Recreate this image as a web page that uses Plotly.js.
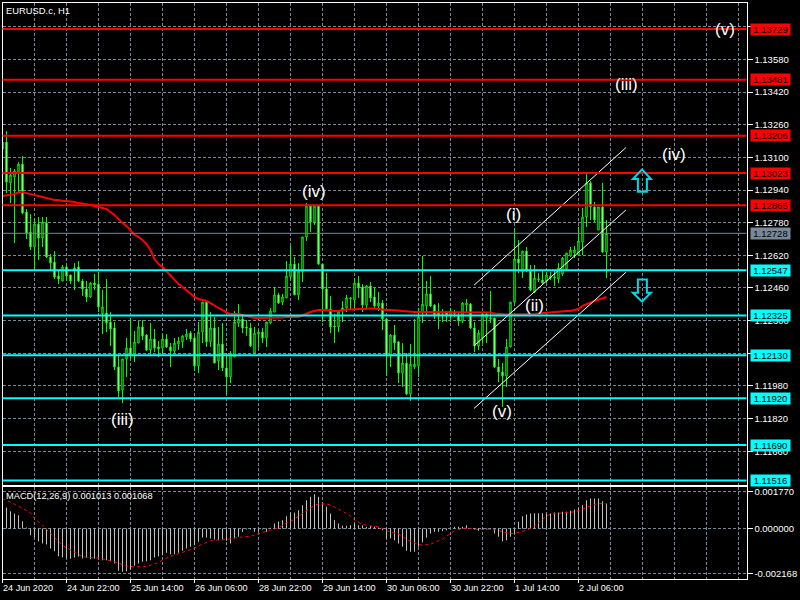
<!DOCTYPE html>
<html>
<head>
<meta charset="utf-8">
<script src="https://cdn.plot.ly/plotly-3.0.1.min.js"></script>
<style>html,body{margin:0;padding:0;background:#000;}#c{width:800px;height:600px;}</style>
</head>
<body>
<div id="c"></div>
<script>
// EURUSD.c H1 bars, oldest first (the first bar sits on the left frame)
var opens=[1.13141,1.13175,1.12975,1.13004,1.13023,1.13067,1.12832,1.12734,1.12661,1.12773,1.12705,1.12778,1.12612,1.12587,1.12519,1.12494,1.12563,1.12524,1.12558,1.12563,1.12494,1.12455,1.12416,1.12484,1.12479,1.12333,1.12338,1.12293,1.12264,1.12073,1.11960,1.12112,1.12166,1.12137,1.12190,1.12269,1.12229,1.12156,1.12210,1.12171,1.12166,1.12210,1.12171,1.12151,1.12185,1.12196,1.12220,1.12239,1.12215,1.12078,1.12244,1.12391,1.12196,1.12264,1.12102,1.12185,1.12068,1.12024,1.12122,1.12288,1.12308,1.12269,1.12264,1.12141,1.12234,1.12244,1.12215,1.12288,1.12342,1.12426,1.12391,1.12411,1.12514,1.12577,1.12426,1.12538,1.12710,1.12862,1.12783,1.12862,1.12577,1.12455,1.12357,1.12274,1.12269,1.12362,1.12362,1.12406,1.12401,1.12484,1.12465,1.12376,1.12470,1.12416,1.12372,1.12386,1.12308,1.12127,1.12229,1.12196,1.12043,1.12092,1.11940,1.12073,1.12078,1.12338,1.12372,1.12431,1.12376,1.12338,1.12323,1.12338,1.12328,1.12333,1.12328,1.12298,1.12376,1.12381,1.12264,1.12176,1.12215,1.12313,1.12308,1.12313,1.12073,1.12048,1.12029,1.12171,1.12391,1.12602,1.12538,1.12641,1.12543,1.12440,1.12499,1.12499,1.12494,1.12509,1.12509,1.12504,1.12529,1.12553,1.12617,1.12631,1.12622,1.12685,1.12808,1.12975,1.12857,1.12744,1.12857,1.12636];
var highs=[1.13175,1.13229,1.13048,1.13043,1.13077,1.13107,1.12847,1.12822,1.12803,1.12808,1.12808,1.12808,1.12626,1.12641,1.12548,1.12573,1.12573,1.12524,1.12582,1.12592,1.12504,1.12494,1.12489,1.12529,1.12538,1.12450,1.12504,1.12342,1.12293,1.12127,1.12112,1.12215,1.12313,1.12249,1.12298,1.12303,1.12234,1.12288,1.12259,1.12200,1.12234,1.12234,1.12190,1.12215,1.12220,1.12229,1.12259,1.12249,1.12229,1.12293,1.12391,1.12391,1.12342,1.12318,1.12269,1.12288,1.12141,1.12151,1.12347,1.12381,1.12323,1.12303,1.12288,1.12269,1.12254,1.12264,1.12293,1.12362,1.12465,1.12436,1.12431,1.12592,1.12666,1.12612,1.12582,1.12710,1.12876,1.12866,1.12862,1.12862,1.12577,1.12533,1.12421,1.12333,1.12347,1.12396,1.12426,1.12416,1.12504,1.12519,1.12479,1.12475,1.12489,1.12460,1.12440,1.12401,1.12313,1.12234,1.12279,1.12200,1.12190,1.12141,1.12185,1.12308,1.12362,1.12617,1.12494,1.12519,1.12381,1.12386,1.12357,1.12347,1.12362,1.12352,1.12338,1.12391,1.12406,1.12386,1.12293,1.12254,1.12338,1.12338,1.12445,1.12313,1.12112,1.12092,1.12210,1.12391,1.12749,1.12695,1.12641,1.12661,1.12573,1.12573,1.12533,1.12548,1.12538,1.12538,1.12548,1.12582,1.12612,1.12631,1.12661,1.12666,1.12759,1.12852,1.13018,1.12984,1.12881,1.12857,1.12975,1.12793];
var lows=[1.13141,1.12925,1.12876,1.12680,1.12930,1.12822,1.12700,1.12646,1.12553,1.12597,1.12661,1.12607,1.12548,1.12504,1.12479,1.12494,1.12494,1.12479,1.12450,1.12489,1.12421,1.12391,1.12411,1.12450,1.12342,1.12234,1.12244,1.12176,1.12058,1.11926,1.11896,1.12024,1.12112,1.12097,1.12190,1.12205,1.12151,1.12132,1.12146,1.12122,1.12137,1.12166,1.12073,1.12137,1.12156,1.12166,1.12205,1.12196,1.12053,1.12043,1.12190,1.12171,1.12171,1.12092,1.12058,1.12053,1.11940,1.11994,1.12122,1.12269,1.12239,1.12225,1.12171,1.12141,1.12166,1.12190,1.12171,1.12283,1.12342,1.12381,1.12376,1.12411,1.12499,1.12426,1.12401,1.12489,1.12690,1.12734,1.12769,1.12573,1.12293,1.12352,1.12239,1.12190,1.12244,1.12293,1.12342,1.12357,1.12357,1.12411,1.12342,1.12357,1.12391,1.12362,1.12347,1.12254,1.12029,1.12073,1.12156,1.11994,1.11975,1.11935,1.11906,1.12063,1.12024,1.12288,1.12328,1.12367,1.12308,1.12259,1.12293,1.12293,1.12293,1.12318,1.12274,1.12288,1.12338,1.12259,1.12146,1.12156,1.12190,1.12190,1.12288,1.12068,1.11999,1.11877,1.11975,1.12171,1.12386,1.12533,1.12509,1.12538,1.12445,1.12435,1.12489,1.12475,1.12484,1.12499,1.12470,1.12484,1.12519,1.12548,1.12612,1.12607,1.12617,1.12622,1.12759,1.12793,1.12783,1.12744,1.12631,1.12509];
var closes=[1.13175,1.12979,1.13014,1.13033,1.13067,1.12827,1.12729,1.12661,1.12773,1.12705,1.12783,1.12612,1.12582,1.12514,1.12504,1.12563,1.12519,1.12494,1.12548,1.12494,1.12455,1.12416,1.12484,1.12475,1.12367,1.12367,1.12288,1.12259,1.12073,1.11955,1.12112,1.12166,1.12132,1.12196,1.12269,1.12225,1.12156,1.12210,1.12166,1.12161,1.12210,1.12171,1.12151,1.12190,1.12200,1.12225,1.12234,1.12210,1.12078,1.12244,1.12391,1.12196,1.12264,1.12092,1.12185,1.12068,1.12024,1.12141,1.12293,1.12308,1.12264,1.12264,1.12176,1.12239,1.12244,1.12215,1.12293,1.12347,1.12426,1.12386,1.12416,1.12519,1.12577,1.12426,1.12543,1.12710,1.12862,1.12783,1.12862,1.12577,1.12455,1.12357,1.12269,1.12269,1.12347,1.12347,1.12411,1.12411,1.12484,1.12460,1.12376,1.12470,1.12411,1.12372,1.12386,1.12308,1.12127,1.12229,1.12190,1.12043,1.12092,1.11940,1.12087,1.12087,1.12318,1.12381,1.12431,1.12372,1.12328,1.12328,1.12333,1.12323,1.12347,1.12338,1.12298,1.12386,1.12386,1.12264,1.12176,1.12239,1.12333,1.12333,1.12313,1.12073,1.12048,1.12029,1.12171,1.12391,1.12602,1.12582,1.12641,1.12543,1.12450,1.12509,1.12504,1.12484,1.12524,1.12519,1.12514,1.12558,1.12607,1.12631,1.12646,1.12646,1.12690,1.12808,1.12975,1.12857,1.12793,1.12857,1.12636,1.12728];
var movingAverage=[1.12911,1.12913,1.12916,1.12920,1.12928,1.12930,1.12925,1.12920,1.12916,1.12911,1.12906,1.12901,1.12896,1.12891,1.12891,1.12886,1.12886,1.12884,1.12881,1.12876,1.12874,1.12871,1.12866,1.12862,1.12857,1.12852,1.12847,1.12832,1.12818,1.12798,1.12778,1.12764,1.12744,1.12720,1.12710,1.12695,1.12675,1.12646,1.12602,1.12577,1.12563,1.12543,1.12519,1.12499,1.12479,1.12465,1.12450,1.12431,1.12416,1.12406,1.12401,1.12396,1.12386,1.12372,1.12362,1.12352,1.12340,1.12333,1.12333,1.12333,1.12328,1.12323,1.12318,1.12313,1.12313,1.12313,1.12313,1.12313,1.12313,1.12313,1.12315,1.12318,1.12318,1.12318,1.12318,1.12325,1.12335,1.12342,1.12347,1.12352,1.12352,1.12350,1.12347,1.12347,1.12347,1.12352,1.12355,1.12355,1.12357,1.12357,1.12357,1.12360,1.12360,1.12360,1.12357,1.12357,1.12352,1.12352,1.12352,1.12350,1.12347,1.12345,1.12342,1.12342,1.12342,1.12342,1.12342,1.12342,1.12342,1.12342,1.12342,1.12342,1.12342,1.12342,1.12342,1.12342,1.12342,1.12342,1.12342,1.12342,1.12342,1.12342,1.12340,1.12335,1.12333,1.12330,1.12330,1.12330,1.12330,1.12330,1.12333,1.12333,1.12333,1.12333,1.12335,1.12337,1.12337,1.12340,1.12342,1.12342,1.12345,1.12347,1.12347,1.12352,1.12357,1.12372,1.12381,1.12389,1.12396,1.12403,1.12408,1.12416];
var macdMain=[0.001000,0.001005,0.000829,0.000718,0.000638,0.000351,0.000048,-0.000319,-0.000431,-0.000606,-0.000718,-0.000766,-0.000957,-0.001085,-0.001324,-0.001372,-0.001436,-0.001451,-0.001388,-0.001340,-0.001436,-0.001404,-0.001467,-0.001451,-0.001467,-0.001515,-0.001515,-0.001563,-0.001675,-0.002026,-0.002074,-0.002042,-0.001962,-0.001786,-0.001675,-0.001595,-0.001563,-0.001515,-0.001388,-0.001324,-0.001276,-0.001164,-0.001228,-0.001228,-0.001164,-0.001069,-0.000957,-0.000877,-0.000798,-0.000638,-0.000431,-0.000431,-0.000479,-0.000526,-0.000558,-0.000558,-0.000590,-0.000718,-0.000479,-0.000399,-0.000160,-0.000048,-0.000048,-0.000160,-0.000160,-0.000048,-0.000160,0.000032,0.000239,0.000319,0.000399,0.000590,0.000766,0.000766,0.000877,0.001117,0.001356,0.001515,0.001643,0.001515,0.001196,0.001037,0.000718,0.000399,0.000239,0.000128,0.000128,0.000160,0.000239,0.000160,0.000160,0.000080,0.000128,0.000080,0.000048,-0.000080,-0.000479,-0.000479,-0.000558,-0.000718,-0.000877,-0.001069,-0.001117,-0.001117,-0.000877,-0.000670,-0.000431,-0.000239,-0.000160,-0.000160,-0.000128,-0.000080,0,0.000080,0.000080,0.000080,0.000160,0,-0.000048,-0.000112,-0.000048,-0.000048,-0.000032,-0.000239,-0.000399,-0.000606,-0.000558,-0.000399,-0.000239,0.000319,0.000590,0.000670,0.000718,0.000734,0.000734,0.000734,0.000718,0.000718,0.000766,0.000766,0.000798,0.000798,0.000845,0.000909,0.000957,0.001117,0.001356,0.001436,0.001436,0.001436,0.001308,0.001196];
var macdSignal=[0.001436,0.001356,0.001260,0.001164,0.001069,0.000957,0.000877,0.000750,0.000479,0.000319,0.000160,-0.000048,-0.000239,-0.000431,-0.000638,-0.000798,-0.000925,-0.001037,-0.001148,-0.001260,-0.001340,-0.001372,-0.001404,-0.001404,-0.001404,-0.001451,-0.001483,-0.001531,-0.001563,-0.001643,-0.001739,-0.001802,-0.001818,-0.001834,-0.001834,-0.001834,-0.001818,-0.001755,-0.001707,-0.001627,-0.001515,-0.001420,-0.001340,-0.001276,-0.001212,-0.001148,-0.001069,-0.001005,-0.000941,-0.000829,-0.000750,-0.000670,-0.000590,-0.000558,-0.000542,-0.000526,-0.000526,-0.000494,-0.000447,-0.000431,-0.000415,-0.000399,-0.000367,-0.000319,-0.000239,-0.000191,-0.000128,-0.000064,-0.000016,0.000032,0.000144,0.000271,0.000335,0.000479,0.000590,0.000718,0.000845,0.000957,0.001117,0.001164,0.001180,0.001180,0.001117,0.001037,0.000925,0.000829,0.000718,0.000590,0.000399,0.000287,0.000191,0.000160,0.000112,0.000112,0.000080,0,-0.000112,-0.000160,-0.000207,-0.000271,-0.000367,-0.000526,-0.000606,-0.000686,-0.000766,-0.000798,-0.000766,-0.000750,-0.000670,-0.000590,-0.000510,-0.000367,-0.000223,-0.000112,-0.000048,0,0.000032,0,-0.000032,-0.000048,-0.000048,-0.000032,-0.000032,-0.000048,-0.000080,-0.000160,-0.000207,-0.000239,-0.000239,-0.000191,-0.000128,-0.000080,0,0.000112,0.000271,0.000431,0.000590,0.000686,0.000702,0.000718,0.000734,0.000750,0.000766,0.000798,0.000845,0.000909,0.001005,0.001085,0.001148,0.001196,0.001196,0.001164];

var redLevels=[1.13729,1.13481,1.13206,1.13023,1.12865];
var cyanLevels=[1.12547,1.12325,1.12130,1.11920,1.11690,1.11516];
var lastPrice=1.12728;
var priceTicks=[1.13740,1.13580,1.13420,1.13260,1.13100,1.12940,1.12780,1.12620,1.12460,1.12300,1.12140,1.11980,1.11820,1.11660];
var priceTickText=['','1.13580','1.13420','1.13260','1.13100','1.12940','1.12780','1.12620','1.12460','1.12300','','1.11980','1.11820','1.11660'];
var macdTicks=[0.00177,0,-0.002168];
var macdTickText=['0.001770','0.000000','-0.002168'];
var gridBars=[7,15,23,31,39,47,55,63,71,79,87,95,103,111,119,127,135,143,151,159,167,175,183];
var timeBars=[-1,15,31,47,63,79,95,111,127,143];
var timeLabels=['24 Jun 2020','24 Jun 22:00','25 Jun 14:00','26 Jun 06:00','28 Jun 22:00','29 Jun 14:00','30 Jun 06:00','30 Jun 22:00','1 Jul 14:00','2 Jul 06:00'];
var waveLabels=['(v)','(iii)','(iv)','(iv)','(i)','(ii)','(iii)','(v)'];
var waveBars=[179.7,154.9,166.9,76.9,126.7,131.9,28.9,123.9];
var wavePrices=[1.13729,1.13455,1.13116,1.12935,1.12822,1.12372,1.11818,1.11857];
var channelBars=[116.9,154.85];
var channelTop=[1.12474,1.13148];
var channelMid=[1.12177,1.12842];
var channelLow=[1.11870,1.12537];
var arrowBars=[156.6,158.9,161.1,160.1,160.1,157.85,157.85];
var arrowUpPrices=[1.12994,1.13041,1.12994,1.12994,1.12932,1.12932,1.12994];
var arrowDownPrices=[1.12437,1.12393,1.12437,1.12437,1.12502,1.12502,1.12437];

var bars=opens.map(function(_,i){return i-1;});
var FONT='"Liberation Sans", Arial, sans-serif';
var GRID='#778899', GREEN='#00ff00', RED='#ff0000', CYAN='#00ffff', W=800, H=600;
var xRange=[-1,185];

function channel(y){return {x:channelBars,y:y,xaxis:'x',yaxis:'y',type:'scatter',mode:'lines',line:{color:'#ffffff',width:1},hoverinfo:'skip'};}
var traces=[
 {type:'candlestick',x:bars,open:opens,high:highs,low:lows,close:closes,xaxis:'x',yaxis:'y',whiskerwidth:0,
  increasing:{line:{color:GREEN,width:1},fillcolor:'#000000'},
  decreasing:{line:{color:GREEN,width:1},fillcolor:'#ffffff'},hoverinfo:'skip'},
 {type:'scatter',mode:'lines',x:bars,y:movingAverage,xaxis:'x',yaxis:'y',line:{color:RED,width:2},hoverinfo:'skip'},
 channel(channelTop),channel(channelMid),channel(channelLow),
 {type:'bar',x:bars,y:macdMain,xaxis:'x2',yaxis:'y2',width:0.25,marker:{color:'#c0c0c0',line:{width:0}},hoverinfo:'skip'},
 {type:'scatter',mode:'lines',x:bars,y:macdSignal,xaxis:'x2',yaxis:'y2',line:{color:RED,width:1,dash:'3px,3px'},hoverinfo:'skip'}
];

function level(p,color,width){return {type:'line',xref:'x domain',x0:0,x1:1,yref:'y',y0:p,y1:p,line:{color:color,width:width},layer:'above'};}
function arrow(prices){
  var d=arrowBars.map(function(b,i){return (i?'L':'M')+b+','+prices[i];}).join(' ')+' Z';
  return {type:'path',xref:'x',yref:'y',path:d,line:{color:'#00d8e8',width:2},fillcolor:'rgba(0,0,0,0)',layer:'above'};
}
var shapes=[level(lastPrice,GRID,1)]
 .concat(redLevels.map(function(p){return level(p,RED,2);}))
 .concat(cyanLevels.map(function(p){return level(p,CYAN,2);}))
 .concat([arrow(arrowUpPrices),arrow(arrowDownPrices)]);

function priceBox(p,bg){return {xref:'paper',yref:'y',x:750/W,y:p,xanchor:'left',yanchor:'middle',text:p.toFixed(5),showarrow:false,
  bgcolor:bg,width:39,height:11,borderpad:0,align:'center',font:{family:FONT,size:9.5,color:'#000000'}};}
var annotations=[]
 .concat(redLevels.map(function(p){return priceBox(p,RED);}))
 .concat(cyanLevels.map(function(p){return priceBox(p,CYAN);}))
 .concat([priceBox(lastPrice,GRID)])
 .concat(waveLabels.map(function(t,i){return {xref:'x',yref:'y',x:waveBars[i],y:wavePrices[i],text:t,showarrow:false,xanchor:'center',yanchor:'middle',font:{family:FONT,size:17,color:'#ffffff'}};}))
 .concat(timeLabels.map(function(t,i){return {xref:'x2',yref:'paper',x:timeBars[i],y:1-582/H,text:t,showarrow:false,xanchor:'left',yanchor:'top',xshift:-1,borderpad:0,font:{family:FONT,size:9.1,color:'#ffffff'}};}))
 .concat([
  {xref:'paper',yref:'paper',x:4/W,y:1-10/H,text:'EURUSD.c, H1',showarrow:false,xanchor:'left',yanchor:'middle',font:{family:FONT,size:9.4,color:'#ffffff'}},
  {xref:'paper',yref:'paper',x:4/W,y:1-496/H,text:'MACD(12,26,9) 0.001013 0.001068',showarrow:false,xanchor:'left',yanchor:'middle',font:{family:FONT,size:9.25,color:'#ffffff'}}
 ]);

var grid={showgrid:true,gridcolor:GRID,gridwidth:1,griddash:'3px,2px',zeroline:false};
var frame={showline:true,mirror:true,linecolor:'#ffffff',linewidth:1};
var layout={
 width:W,height:H,margin:{l:0,r:0,t:0,b:0},paper_bgcolor:'#000000',plot_bgcolor:'#000000',showlegend:false,barmode:'overlay',boxgap:0.5,
 font:{family:FONT,color:'#ffffff',size:9.5},
 xaxis:Object.assign({type:'linear',domain:[2.5/W,746.5/W],range:xRange,anchor:'y',tickmode:'array',tickvals:gridBars,showticklabels:false,ticks:'',rangeslider:{visible:false},fixedrange:true},grid,frame),
 yaxis:Object.assign({domain:[1-484.5/H,1-2.5/H],range:[1.11497,1.13859],anchor:'x',side:'right',tickmode:'array',tickvals:priceTicks,ticktext:priceTickText,ticks:'outside',ticklen:5,tickcolor:'#ffffff',tickfont:{family:FONT,size:9.5,color:'#ffffff'},fixedrange:true},grid,frame),
 xaxis2:Object.assign({type:'linear',domain:[2.5/W,746.5/W],range:xRange,anchor:'y2',tickmode:'array',tickvals:timeBars,showticklabels:false,ticks:'outside',ticklen:3,tickcolor:'#ffffff',rangeslider:{visible:false},fixedrange:true,
    minor:{tickmode:'array',tickvals:gridBars,showgrid:true,gridcolor:GRID,griddash:'3px,2px',gridwidth:1,ticks:''}},grid,frame),
 yaxis2:Object.assign({domain:[1-578.5/H,1-486.5/H],range:[-0.002392,0.00201],anchor:'x2',side:'right',tickmode:'array',tickvals:macdTicks,ticktext:macdTickText,ticks:'outside',ticklen:5,tickcolor:'#ffffff',tickfont:{family:FONT,size:9.5,color:'#ffffff'},fixedrange:true},grid,frame),
 shapes:shapes,annotations:annotations
};
Plotly.newPlot('c',traces,layout,{staticPlot:true,displayModeBar:false});
</script>
</body>
</html>
